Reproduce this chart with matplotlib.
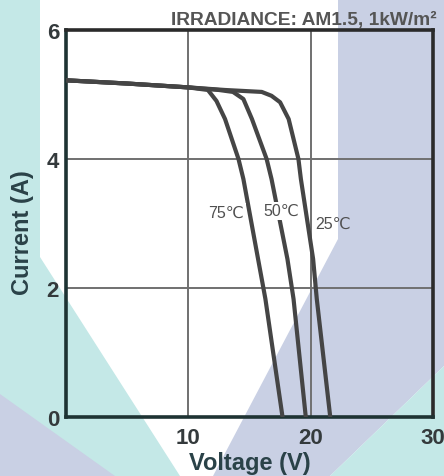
import matplotlib
matplotlib.use("Agg")
import matplotlib.pyplot as plt
from matplotlib.patches import Polygon

plt.rcParams['font.family'] = ['Liberation Sans', 'DejaVu Sans']

# I-V curves (voltage in V, current in A)
v_75 = [0, 5, 10, 11.6, 12.3, 13.0, 14.1, 14.5, 15.7, 16.3, 17.7]
i_75 = [5.22, 5.17, 5.11, 5.07, 4.90, 4.62, 4.00, 3.69, 2.45, 1.83, 0.0]

v_50 = [0, 5, 10, 12.5, 13.65, 14.5, 15.2, 16.4, 16.8, 18.1, 18.6, 19.6]
i_50 = [5.22, 5.17, 5.11, 5.07, 5.04, 4.93, 4.62, 4.00, 3.69, 2.45, 1.83, 0.0]

v_25 = [0, 5, 10, 13, 16.0, 16.8, 17.5, 18.2, 19.0, 19.2, 20.2, 20.5, 21.6]
i_25 = [5.22, 5.17, 5.11, 5.07, 5.04, 4.98, 4.88, 4.62, 4.00, 3.69, 2.45, 1.83, 0.0]

curve_labels = ["75℃", "50℃", "25℃"]
label_pos = [(13.1, 3.18), (17.6, 3.2), (21.8, 3.0)]

x_ticks = [10, 20, 30]
y_ticks = [0, 2, 4, 6]

fig = plt.figure(figsize=(4.44, 4.77), dpi=100)
W, H = 444, 477

# background watermark shapes (pixel coords, top-left origin)
bg = fig.add_axes([0, 0, 1, 1], zorder=-1)
bg.set_xlim(0, W)
bg.set_ylim(H, 0)
bg.axis("off")
teal = "#c4e8e7"
lav = "#c9d0e4"
shapes = [
    ([(0, 0), (40, 0), (40, 258), (180, 477), (0, 477)], teal),
    ([(0, 395), (115, 477), (0, 477)], lav),
    ([(338, 0), (444, 0), (444, 367), (330, 477), (213, 477), (338, 240)], lav),
    ([(444, 367), (444, 477), (330, 477)], teal),
]
for pts, col in shapes:
    bg.add_patch(Polygon(pts, closed=True, facecolor=col, edgecolor="none"))

ax = fig.add_axes([66 / W, 1 - 418 / H, 367 / W, 387 / H])
ax.set_facecolor("none")

for v, i in [(v_75, i_75), (v_50, i_50), (v_25, i_25)]:
    ax.plot(v, i, color="#454545", lw=3.0, solid_joinstyle="round",
            solid_capstyle="round", zorder=3)

for k, (txt, (x, y)) in enumerate(zip(curve_labels, label_pos)):
    box = dict(facecolor="white", edgecolor="none", pad=1) if k < 2 else None
    ax.text(x, y, txt, ha="center", va="center", fontsize=11.5,
            color="#505050", zorder=4, bbox=box)

ax.set_xlim(0, 30)
ax.set_ylim(0, 6)
ax.set_xticks(x_ticks)
ax.set_yticks(y_ticks)
ax.grid(True, color="#707070", lw=1.4)
ax.set_axisbelow(True)
ax.tick_params(length=0, labelsize=16, labelcolor="#343a3c")
ax.tick_params(axis="x", pad=7)
ax.tick_params(axis="y", pad=5)
for t in ax.get_xticklabels() + ax.get_yticklabels():
    t.set_fontweight("bold")

for side in ["left", "bottom"]:
    ax.spines[side].set_color("#1e3333")
    ax.spines[side].set_linewidth(2.6)
for side in ["top", "right"]:
    ax.spines[side].set_color("#2a2a2a")
    ax.spines[side].set_linewidth(2.6)

ax.set_xlabel("Voltage (V)", fontsize=17, fontweight="bold",
              color="#2a4248", va="center")
ax.xaxis.set_label_coords(0.5, (418 - 464) / 387)
ax.set_ylabel("Current (A)", fontsize=17, fontweight="bold",
              color="#2a4248", va="center")
ax.yaxis.set_label_coords((23 - 66) / 367, 0.5 - (232.5 - 224.5) / 387)

fig.text(437 / W, 1 - 25 / H, "IRRADIANCE: AM1.5, 1kW/m²", ha="right",
         va="baseline", fontsize=13.8, fontweight="bold", color="#555555")

fig.savefig("out.png", dpi=100)
